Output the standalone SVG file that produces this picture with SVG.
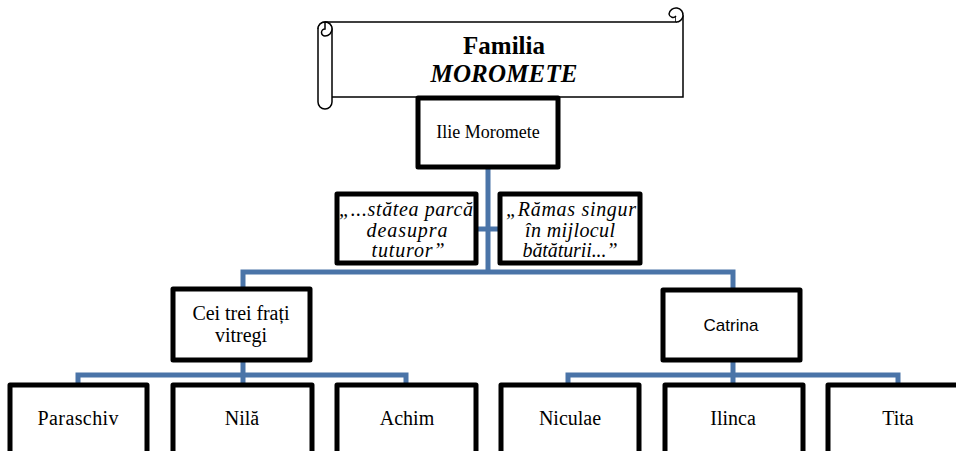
<svg xmlns="http://www.w3.org/2000/svg" width="956" height="451" viewBox="0 0 956 451">
<style>
.box{fill:#fff;stroke:#000;stroke-width:5;stroke-linejoin:round}
.conn{fill:none;stroke:#4a74a8;stroke-width:5}
.t{font-family:"Liberation Serif",serif;font-size:18px;fill:#000;text-anchor:middle}
.b{font-family:"Liberation Serif",serif;font-size:20px;fill:#000;text-anchor:middle}
.q{font-family:"Liberation Serif",serif;font-size:20px;font-style:italic;fill:#000;text-anchor:middle}
.s{font-family:"Liberation Sans",sans-serif;font-size:17px;fill:#000;text-anchor:middle}
.scroll{fill:#fff;stroke:#000;stroke-width:1.5}
</style>
<rect width="956" height="451" fill="#fff"/>
<g id="connectors">
<path class="conn" d="M488,167 V272 M476,229 H500 M243,289 V272 H733 V290"/>
<path class="conn" d="M243,360 V375 M78,385 V375 H406 V385 M243,375 V385"/>
<path class="conn" d="M733,360 V375 M568,385 V375 H898 V385 M733,375 V385"/>
</g>
<g id="title">
<path class="scroll" d="M325,22 H676 V16 A7,7 0 0 1 683,16 V97 H332"/>
<path class="scroll" d="M676,22 A7,7 0 0 0 683,16 A7,7 0 0 0 669,14 A4,4 0 0 0 676,16"/>
<path class="scroll" d="M318,29 V102 A7,7 0 0 0 332,102 V29 A7,7 0 0 0 318,29 Z"/>
<path class="scroll" d="M318,29 A7,7 0 0 1 332,29 A7,7 0 0 1 325,36 A3.5,3.5 0 0 1 325,29 V22"/>
<text x="504" y="54" font-family="Liberation Serif,serif" font-size="25" font-weight="bold" text-anchor="middle">Familia</text>
<text x="504" y="82" font-family="Liberation Serif,serif" font-size="25" font-weight="bold" font-style="italic" text-anchor="middle" textLength="147">MOROMETE</text>
</g>
<g id="ilie">
<rect class="box" x="418" y="98" width="140" height="69"/>
<text class="t" x="488" y="138">Ilie Moromete</text>
</g>
<g id="quote1">
<rect class="box" x="337" y="194" width="139" height="69"/>
<text class="q" x="406" y="216" textLength="134">„...stătea parcă</text>
<text class="q" x="407" y="237" textLength="81">deasupra</text>
<text class="q" x="408" y="257" textLength="73">tuturor”</text>
</g>
<g id="quote2">
<rect class="box" x="500" y="194" width="140" height="69"/>
<text class="q" x="571" y="216" textLength="130">„Rămas singur</text>
<text class="q" x="570" y="237" textLength="90">în mijlocul</text>
<text class="q" x="570" y="257" textLength="95">bătăturii...”</text>
</g>
<g id="frati">
<rect class="box" x="173" y="289" width="137" height="71"/>
<text class="b" x="241" y="320" textLength="97">Cei trei frați</text>
<text class="b" x="241" y="342">vitregi</text>
</g>
<g id="catrina">
<rect class="box" x="663" y="290" width="137" height="70"/>
<text class="s" x="731" y="331">Catrina</text>
</g>
<g id="paraschiv">
<rect class="box" x="10" y="385" width="137" height="80"/>
<text class="b" x="78" y="425" textLength="81">Paraschiv</text>
</g>
<g id="nila">
<rect class="box" x="173" y="385" width="139" height="80"/>
<text class="b" x="242" y="425">Nilă</text>
</g>
<g id="achim">
<rect class="box" x="337" y="385" width="139" height="80"/>
<text class="b" x="407" y="425">Achim</text>
</g>
<g id="niculae">
<rect class="box" x="501" y="385" width="138" height="80"/>
<text class="b" x="570" y="425">Niculae</text>
</g>
<g id="ilinca">
<rect class="box" x="665" y="385" width="138" height="80"/>
<text class="b" x="733" y="425">Ilinca</text>
</g>
<g id="tita">
<rect class="box" x="828" y="385" width="138" height="80"/>
<text class="b" x="898" y="425">Tita</text>
</g>
</svg>
